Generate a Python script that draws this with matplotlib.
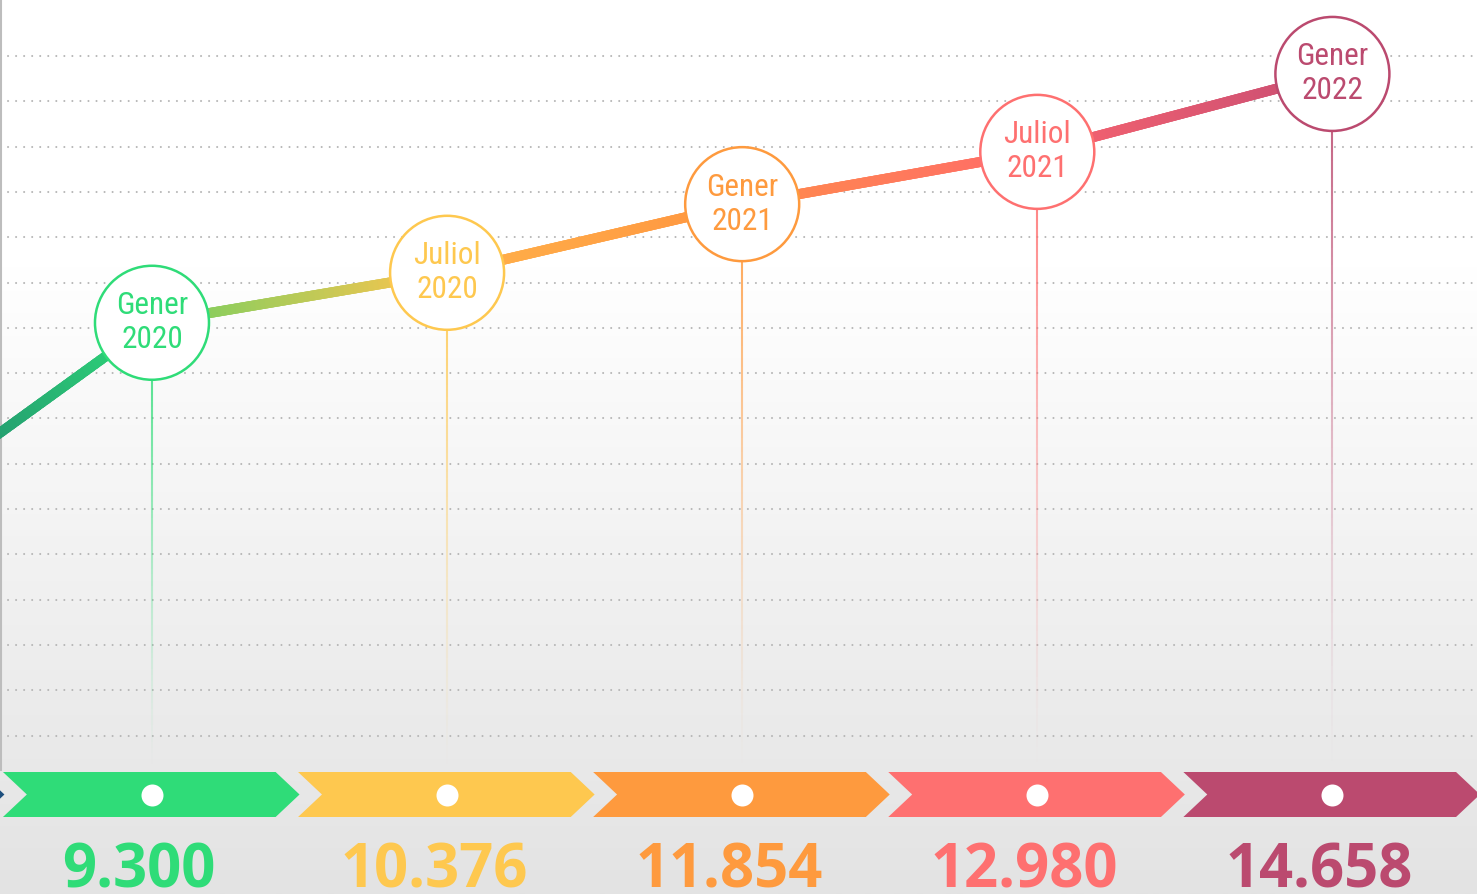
import numpy as np
import matplotlib
matplotlib.use("Agg")
import matplotlib.pyplot as plt
from matplotlib import font_manager
from matplotlib.collections import LineCollection
from matplotlib.colors import to_rgb
from matplotlib.patches import Polygon

# --- data ---
periods = ["Gener\n2020", "Juliol\n2020", "Gener\n2021", "Juliol\n2021", "Gener\n2022"]
values = [9300, 10376, 11854, 12980, 14658]
prev_value = 4700          # earlier reading, only its segment edge is visible
colors = ["#2fdc78", "#fec84f", "#fe9a3e", "#fe7070", "#bb4a6f"]
prev_color = "#1d4f7d"
# start/end colours of each connecting segment (prev->0, 0->1, ...)
seg_colors = [("#1a6c68", "#2fd879"), ("#6fd062", "#ffc44d"), ("#ffb24a", "#ff9540"),
              ("#ff8c4b", "#ff6b69"), ("#f8646f", "#c94e73")]


def pick_font(names):
    for n in names:
        try:
            font_manager.findfont(font_manager.FontProperties(family=n), fallback_to_default=False)
            return n
        except ValueError:
            pass
    return "DejaVu Sans"


cond_font = pick_font(["Roboto Condensed", "Liberation Sans Narrow", "DejaVu Sans"])
num_font = pick_font(["Open Sans", "Lato", "DejaVu Sans"])

W, H = 1477, 894
fig = plt.figure(figsize=(W / 100, H / 100), dpi=100)

# background: white fading to light grey
bg = fig.add_axes([0, 0, 1, 1])
bg.set_xlim(0, 1)
bg.set_ylim(0, 1)
bg.axis("off")
t = np.linspace(0, 1, 300)
shade = np.clip((t - 0.3) / 0.7, 0, 1)
top, bot = np.array([1.0, 1.0, 1.0]), np.array(to_rgb("#e3e3e3"))
grad = top[None, :] * (1 - shade[:, None]) + bot[None, :] * shade[:, None]
bg.imshow(grad[:, None, :], extent=[0, 1, 0, 1], aspect="auto", origin="upper", zorder=0)

# dotted guide lines
for k in range(16):
    yf = 1 - (56 + 45.3 * k) / H
    bg.plot([0, 1], [yf, yf], color="#b6b6b6", lw=1.5,
            linestyle=(0, (0.01, 3.85)), dash_capstyle="round", zorder=1)
bg.plot([0.0007, 0.0007], [1 - 770 / H, 1], color="#bdbdbd", lw=1.5, zorder=1)

# main axes: x = period index, y = value
ax = fig.add_axes([0, 0, 1, 1])
ax.patch.set_alpha(0)
ax.axis("off")
ax.set_xlim(-0.515, 4.49)
y0, y1 = -3000, 16250
ax.set_ylim(y0, y1)

xs = np.arange(-1, len(values))
ys = np.array([prev_value] + values, dtype=float)


def gradient_segment(xa, ya, xb, yb, ca, cb, lw, alphas=None, n=80, z=2, cap="butt"):
    px = np.linspace(xa, xb, n + 1)
    py = np.linspace(ya, yb, n + 1)
    segs = np.stack([np.column_stack([px[:-1], py[:-1]]),
                     np.column_stack([px[1:], py[1:]])], axis=1)
    f = np.linspace(0, 1, n)[:, None]
    cols = np.array(to_rgb(ca)) * (1 - f) + np.array(to_rgb(cb)) * f
    if alphas is not None:
        cols = np.column_stack([cols, alphas])
    lc = LineCollection(segs, colors=cols, linewidths=lw, capstyle=cap, zorder=z)
    ax.add_collection(lc)


for i in range(len(xs) - 1):
    ca, cb = seg_colors[i]
    gradient_segment(xs[i], ys[i], xs[i + 1], ys[i + 1], ca, cb, lw=7.2, n=60, z=3,
                     cap="projecting")

# fading drop lines
y_drop = y0 + (1 - 770 / H) * (y1 - y0)
for i, (v, c) in enumerate(zip(values, colors)):
    n = 80
    gradient_segment(i, v, i, y_drop, c, c, lw=1.5,
                     alphas=np.linspace(0.95, 0.0, n) ** 1.3, n=n, z=2)

# period circles
ax.scatter(range(len(values)), values, s=(2 * 57 * 0.72) ** 2, facecolor="white",
           edgecolor=colors, linewidths=1.8, zorder=5)
for i, (v, lab, c) in enumerate(zip(values, periods, colors)):
    ax.text(i, v, lab, ha="center", va="center", color=c, fontsize=22.5,
            family=cond_font, fontweight="normal", linespacing=1.22, zorder=6)

# chevron band
tr = ax.get_xaxis_transform()
ct, cbm = 1 - 772 / H, 1 - 817 / H
cm = (ct + cbm) / 2
d = 0.081
for i, c in zip(range(-1, len(values)), [prev_color] + colors):
    L, R = i - 0.505, i + 0.5
    pts = [(L, ct), (R - d, ct), (R, cm), (R - d, cbm), (L, cbm), (L + d, cm)]
    ax.add_patch(Polygon(pts, closed=True, facecolor=c, edgecolor="none",
                         transform=tr, zorder=4))
ax.scatter(range(len(values)), [cm] * len(values), s=(22 * 0.72) ** 2, color="white",
           transform=tr, zorder=5, linewidths=0)

# value labels
for i, (v, c) in enumerate(zip(values, colors)):
    ax.text(i - 0.045, 1 - 887 / H, f"{v:,}".replace(",", "."), transform=tr,
            ha="center", va="baseline", color=c, fontsize=43, fontweight="bold",
            family=num_font, zorder=6)

fig.savefig("out.png", dpi=100)
